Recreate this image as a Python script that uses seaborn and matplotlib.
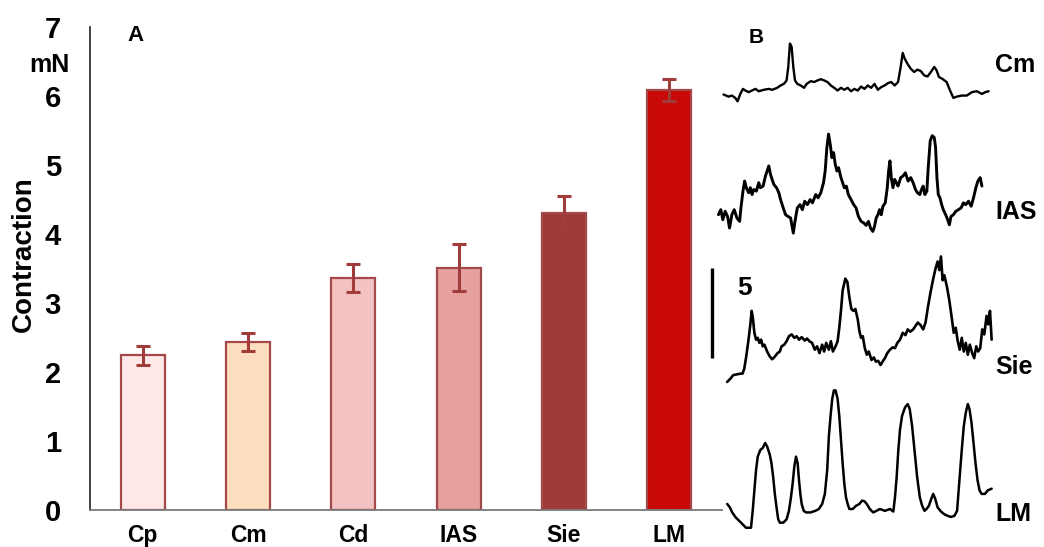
import matplotlib
matplotlib.use("Agg")
import matplotlib.pyplot as plt
import seaborn as sns

# ---- Panel A: mean contraction per tissue (mN) ----
tissues = ["Cp", "Cm", "Cd", "IAS", "Sie", "LM"]
contraction = [2.24, 2.43, 3.36, 3.51, 4.30, 6.09]
contraction_sem = [0.14, 0.13, 0.20, 0.34, 0.25, 0.16]
bar_colors = ["#FDE7E7", "#FDDFBF", "#F3C2C2", "#E6A09E", "#9E3A3A", "#C90808"]
y_ticks = [0, 1, 2, 3, 4, 5, 6, 7]

# ---- Panel B: representative force recordings (time in s, force in mN) ----
cm_time = [1.5, 3.0, 4.0, 5.0, 5.7, 6.5, 7.3, 8.0, 9.0, 10.0, 11.0, 12.0, 13.5, 15.0, 16.0,
           17.5, 18.5, 19.5, 20.3, 20.8, 21.3, 21.8, 22.3, 22.8, 23.5, 24.5, 25.5, 26.3, 27.5,
           28.5, 29.5, 30.5, 31.5, 32.5, 33.5, 34.5, 35.5, 36.5, 37.5, 38.5, 39.5, 40.5, 41.5,
           42.5, 43.5, 44.5, 45.5, 46.5, 47.5, 48.5, 49.5, 50.5, 51.5, 52.5, 53.5, 54.3, 54.9,
           55.5, 56.3, 57.3, 58.3, 59.3, 60.3, 61.3, 62.3, 63.3, 64.3, 65.0, 65.7, 66.7, 68.0,
           69.0, 70.0, 71.0, 72.5, 74.0, 75.5, 77.0, 78.5, 79.5, 80.5]
cm_force = [0.34, 0.22, 0.28, 0.15, -0.04, 0.37, 0.65, 0.56, 0.47, 0.56, 0.65, 0.52, 0.60, 0.65,
            0.60, 0.71, 0.84, 0.93, 1.12, 1.87, 3.17, 2.99, 1.87, 1.12, 0.93, 0.84, 0.71, 0.93,
            1.08, 1.03, 1.12, 1.19, 1.12, 1.03, 0.84, 0.71, 0.56, 0.71, 0.60, 0.71, 0.52, 0.65,
            0.56, 0.78, 0.65, 0.84, 0.71, 0.93, 0.60, 0.75, 0.84, 0.97, 1.03, 0.84, 1.03, 1.87,
            2.65, 2.33, 2.05, 1.77, 1.59, 1.72, 1.64, 1.40, 1.34, 1.59, 1.87, 1.68, 1.31, 1.21,
            1.03, 0.56, 0.15, 0.22, 0.28, 0.28, 0.47, 0.52, 0.37, 0.47, 0.52]

ias_time = [0.0, 0.7, 1.3, 2.0, 2.7, 3.3, 4.0, 4.7, 5.5, 6.3, 6.7, 7.3, 7.8, 8.3, 9.0, 9.5, 10.0,
            10.5, 11.3, 12.0, 12.5, 13.3, 14.0, 14.5, 15.0, 15.5, 16.0, 16.5, 17.3, 18.0, 18.5,
            19.3, 20.0, 20.7, 21.5, 22.3, 22.8, 23.5, 24.3, 25.0, 25.7, 26.5, 27.3, 28.0, 29.0,
            29.7, 30.5, 31.3, 31.8, 32.3, 32.8, 33.3, 33.8, 34.3, 34.8, 35.3, 35.8, 36.5, 37.0,
            37.5, 38.1, 38.7, 39.5, 40.3, 41.0, 41.7, 42.5, 43.3, 44.0, 44.7, 45.3, 46.0, 46.5,
            47.0, 47.5, 48.0, 48.5, 49.0, 49.7, 50.3, 50.7, 51.1, 51.5, 52.0, 52.5, 53.0, 53.5,
            54.3, 55.0, 55.7, 56.5, 57.3, 58.0, 58.7, 59.3, 60.0, 60.5, 61.0, 61.5, 62.1, 62.5,
            63.1, 63.7, 64.3, 64.7, 65.1, 65.5, 66.0, 66.5, 67.0, 67.7, 68.3, 68.8, 69.3, 70.0,
            70.7, 71.5, 72.3, 73.0, 73.7, 74.5, 75.3, 76.0, 76.7, 77.3, 78.0, 78.5]
ias_force = [0.93, 1.21, 0.65, 1.12, 0.84, 0.19, 0.93, 1.21, 0.75, 0.56, 1.31, 2.24, 2.80, 2.43,
             2.15, 2.43, 2.05, 2.33, 2.24, 2.71, 2.43, 2.52, 3.08, 3.36, 3.64, 3.17, 2.89, 2.61,
             2.43, 2.15, 1.77, 1.31, 0.93, 0.84, 0.75, -0.09, 0.56, 1.31, 1.49, 1.21, 1.68, 1.49,
             1.77, 1.59, 2.05, 1.87, 2.15, 2.71, 3.36, 4.66, 5.41, 4.85, 4.10, 4.38, 3.73, 3.36,
             3.54, 2.99, 2.71, 2.43, 2.52, 2.05, 1.77, 1.49, 1.31, 0.84, 0.56, 0.47, 0.34, 0.56,
             0.19, 0.00, 0.28, 0.75, 0.93, 1.21, 0.93, 1.40, 1.59, 2.43, 3.36, 3.92, 2.99, 2.43,
             2.89, 2.71, 2.52, 2.99, 3.08, 3.26, 2.80, 2.99, 2.71, 2.33, 2.15, 2.05, 2.33, 2.52,
             2.05, 2.24, 3.54, 5.04, 5.32, 5.22, 4.66, 2.99, 2.05, 1.87, 1.49, 1.21, 0.93, 0.65,
             0.37, 0.84, 0.93, 1.12, 1.21, 1.31, 1.59, 1.49, 1.68, 1.40, 1.87, 2.43, 2.80, 2.99,
             2.52]

sie_time = [2.6, 3.6, 4.4, 5.2, 6.2, 7.2, 7.7, 8.2, 8.9, 9.5, 9.9, 10.3, 10.7, 11.2, 11.7, 12.2,
            12.7, 13.2, 13.7, 14.5, 15.3, 16.0, 16.8, 17.6, 18.3, 18.8, 19.6, 20.3, 21.0, 21.8,
            22.6, 23.3, 24.0, 24.8, 25.7, 26.4, 27.1, 27.9, 28.7, 29.4, 30.1, 30.9, 31.5, 32.1,
            32.9, 33.5, 34.1, 34.9, 35.5, 36.0, 36.5, 37.0, 37.8, 38.4, 39.0, 39.6, 40.2, 40.8,
            41.5, 42.0, 42.5, 43.0, 43.6, 44.2, 44.8, 45.6, 46.3, 46.9, 47.6, 48.3, 48.9, 49.6,
            50.3, 51.1, 51.9, 52.6, 53.3, 54.1, 54.9, 55.7, 56.4, 57.2, 58.0, 58.7, 59.4, 60.2,
            61.0, 61.7, 62.4, 63.2, 64.0, 64.7, 65.3, 65.8, 66.3, 66.8, 67.3, 68.1, 68.8, 69.5,
            70.1, 70.7, 71.3, 71.9, 72.5, 73.1, 73.7, 74.3, 74.9, 75.6, 76.2, 76.8, 77.4, 78.0,
            78.6, 79.2, 79.9, 80.4, 80.9, 81.4]
sie_force = [0.00, 0.19, 0.38, 0.41, 0.45, 0.47, 0.75, 1.32, 2.26, 3.20, 3.95, 3.48, 2.73, 2.35,
             2.45, 2.17, 2.35, 1.98, 2.07, 1.69, 1.41, 1.26, 1.41, 1.60, 1.69, 1.98, 2.07, 2.26,
             2.54, 2.64, 2.45, 2.54, 2.35, 2.49, 2.30, 2.41, 2.26, 2.17, 1.79, 1.98, 1.60, 2.07,
             1.69, 2.17, 1.79, 2.26, 1.69, 1.98, 2.26, 3.01, 3.95, 5.08, 5.74, 5.56, 4.71, 4.05,
             3.95, 4.05, 3.48, 2.82, 2.45, 2.54, 1.88, 1.51, 1.69, 1.22, 1.36, 1.13, 1.17, 0.94,
             1.13, 1.32, 1.60, 1.79, 1.92, 1.88, 2.17, 2.35, 2.73, 2.60, 2.92, 2.79, 2.92, 3.11,
             3.30, 3.16, 2.92, 3.30, 4.14, 4.99, 5.74, 6.31, 6.69, 6.21, 6.97, 5.65, 5.93, 5.27,
             4.52, 3.58, 2.73, 3.01, 2.26, 1.79, 2.45, 1.69, 2.17, 1.51, 2.07, 1.60, 1.32, 1.98,
             1.69, 1.88, 2.92, 2.64, 3.67, 3.20, 3.95, 2.35]

lm_time = [2.6, 3.4, 4.1, 5.2, 6.2, 7.2, 8.2, 9.7, 10.2, 10.7, 11.2, 11.7, 12.5, 13.2, 13.9, 14.5,
           15.3, 15.8, 16.3, 16.8, 17.3, 17.8, 18.3, 19.3, 20.3, 21.0, 21.6, 22.1, 22.6, 23.1,
           23.6, 24.0, 24.4, 24.8, 25.4, 26.1, 27.4, 28.9, 29.9, 30.9, 31.7, 32.4, 32.9, 33.4,
           33.9, 34.4, 34.9, 35.5, 36.0, 36.5, 37.0, 37.5, 38.0, 38.5, 39.0, 40.0, 41.0, 42.0,
           42.8, 43.5, 44.2, 45.1, 46.1, 47.1, 48.1, 49.6, 51.1, 52.1, 52.6, 53.1, 53.6, 54.1,
           54.7, 55.6, 56.4, 57.0, 57.7, 58.4, 59.2, 60.0, 60.7, 61.4, 62.0, 62.7, 63.4, 64.0,
           64.6, 65.3, 66.3, 67.3, 68.3, 69.3, 70.3, 71.1, 71.8, 72.5, 73.1, 73.7, 74.3, 74.8,
           75.4, 76.0, 76.6, 77.2, 77.8, 78.4, 79.4, 80.2, 81.4]
lm_force = [1.32, 1.13, 0.85, 0.56, 0.38, 0.19, 0.00, 0.00, 0.94, 2.07, 3.20, 3.95, 4.33, 4.43,
            4.71, 4.52, 4.05, 3.58, 2.82, 1.88, 1.13, 0.47, 0.28, 0.28, 0.47, 0.94, 1.69, 2.45,
            3.39, 3.95, 3.58, 2.64, 1.88, 1.32, 0.94, 0.85, 0.85, 0.94, 1.04, 1.32, 1.88, 3.20,
            5.08, 6.21, 7.16, 7.63, 7.63, 7.16, 6.21, 4.90, 3.58, 2.45, 1.69, 1.32, 1.04, 1.04,
            1.22, 1.32, 1.51, 1.47, 1.32, 1.04, 0.85, 0.94, 1.04, 0.94, 1.04, 0.90, 1.69, 2.82,
            4.33, 5.46, 6.21, 6.69, 6.87, 6.59, 5.65, 4.33, 2.82, 1.69, 1.22, 0.94, 1.04, 1.22,
            1.60, 1.88, 1.60, 1.13, 0.90, 0.75, 0.66, 0.60, 0.66, 0.94, 2.64, 4.33, 5.65, 6.40,
            6.87, 6.59, 5.84, 4.71, 3.58, 2.64, 2.07, 1.88, 1.88, 2.07, 2.17]

trace_names = ["Cm", "IAS", "Sie", "LM"]
trace_times = [cm_time, ias_time, sie_time, lm_time]
trace_forces = [cm_force, ias_force, sie_force, lm_force]
scale_bar_mN = 5

# ---- style ----
sns.set_theme(style="white")
plt.rcParams["font.family"] = ["Liberation Sans", "DejaVu Sans"]
plt.rcParams["font.weight"] = "bold"
plt.rcParams["text.color"] = "black"
plt.rcParams["axes.labelcolor"] = "black"

W, H = 1044, 547
fig = plt.figure(figsize=(W / 100, H / 100), dpi=100)

# Panel A axes
axA = fig.add_axes([90 / W, 1 - 510 / H, (722 - 90) / W, (510 - 27) / H])
sns.barplot(x=tissues, y=contraction, hue=tissues, palette=bar_colors, saturation=1,
            width=0.42, edgecolor="#A5484A", linewidth=1.6, legend=False, ax=axA, zorder=2)
axA.errorbar(range(len(tissues)), contraction, yerr=contraction_sem, fmt="none",
             ecolor="#A03C3C", elinewidth=2.2, capsize=5, capthick=2.2, zorder=3)

axA.set_xlim(-0.5, len(tissues) - 0.5)
axA.set_ylim(0, 7)
axA.set_yticks(y_ticks)
axA.set_yticklabels([str(v) for v in y_ticks], fontsize=21, fontweight="bold")
axA.set_xticks(range(len(tissues)))
axA.set_xticklabels(tissues, fontsize=16.5, fontweight="bold")
axA.set_xticks([i - 0.5 for i in range(len(tissues) + 1)], minor=True)
axA.tick_params(axis="x", which="major", length=0, pad=10, labelcolor="black")
axA.tick_params(axis="x", which="minor", length=7, width=1.2, color="#606060", direction="out")
axA.tick_params(axis="y", which="major", length=10, width=1.2, color="#707070",
                direction="out", pad=11, labelcolor="black")
axA.set_ylabel("Contraction", fontsize=20, fontweight="bold", color="black")
axA.yaxis.set_label_coords(-0.084, 0.53)
axA.set_xlabel("")
for side in ("top", "right"):
    axA.spines[side].set_visible(False)
axA.spines["left"].set_color("#222222")
axA.spines["left"].set_linewidth(1.2)
axA.spines["bottom"].set_color("#7a7a7a")
axA.spines["bottom"].set_linewidth(1.3)
axA.text(0.072, 0.983, "A", transform=axA.transAxes, fontsize=16, fontweight="bold",
         ha="center", va="center", color="black")
fig.text(49 / W, 1 - 65 / H, "mN", fontsize=18, fontweight="bold", ha="center", va="center",
         color="black")

# Panel B axes: stacked recordings
axB = fig.add_axes([700 / W, 0, 344 / W, 1])
axB.set_xlim(-5.5, 97.0)
axB.set_ylim(0, H / 18)
axB.axis("off")
trace_offsets = [24.8, 17.53, 9.17, 1.07]
label_heights = [26.8, 18.6, 10.0, 1.85]
trace_widths = [1.7, 2.1, 1.9, 1.8]
for name, t, f, off, ly, lw in zip(trace_names, trace_times, trace_forces, trace_offsets,
                                   label_heights, trace_widths):
    sns.lineplot(x=t, y=[v + off for v in f], ax=axB, color="black", linewidth=lw,
                 sort=False, estimator=None)
    axB.text(82.4, ly, name, fontsize=18, fontweight="bold", ha="left", va="center",
             color="black")

# force scale bar
axB.plot([-1.9, -1.9], [10.5, 10.5 + scale_bar_mN], color="black", linewidth=2.4,
         solid_capstyle="butt")
axB.text(7.9, 14.4, str(scale_bar_mN), fontsize=19, fontweight="bold", ha="center",
         va="center", color="black")
axB.text(11.2, 28.3, "B", fontsize=15, fontweight="bold", ha="center", va="center",
         color="black")

fig.savefig("out.png", dpi=100)
